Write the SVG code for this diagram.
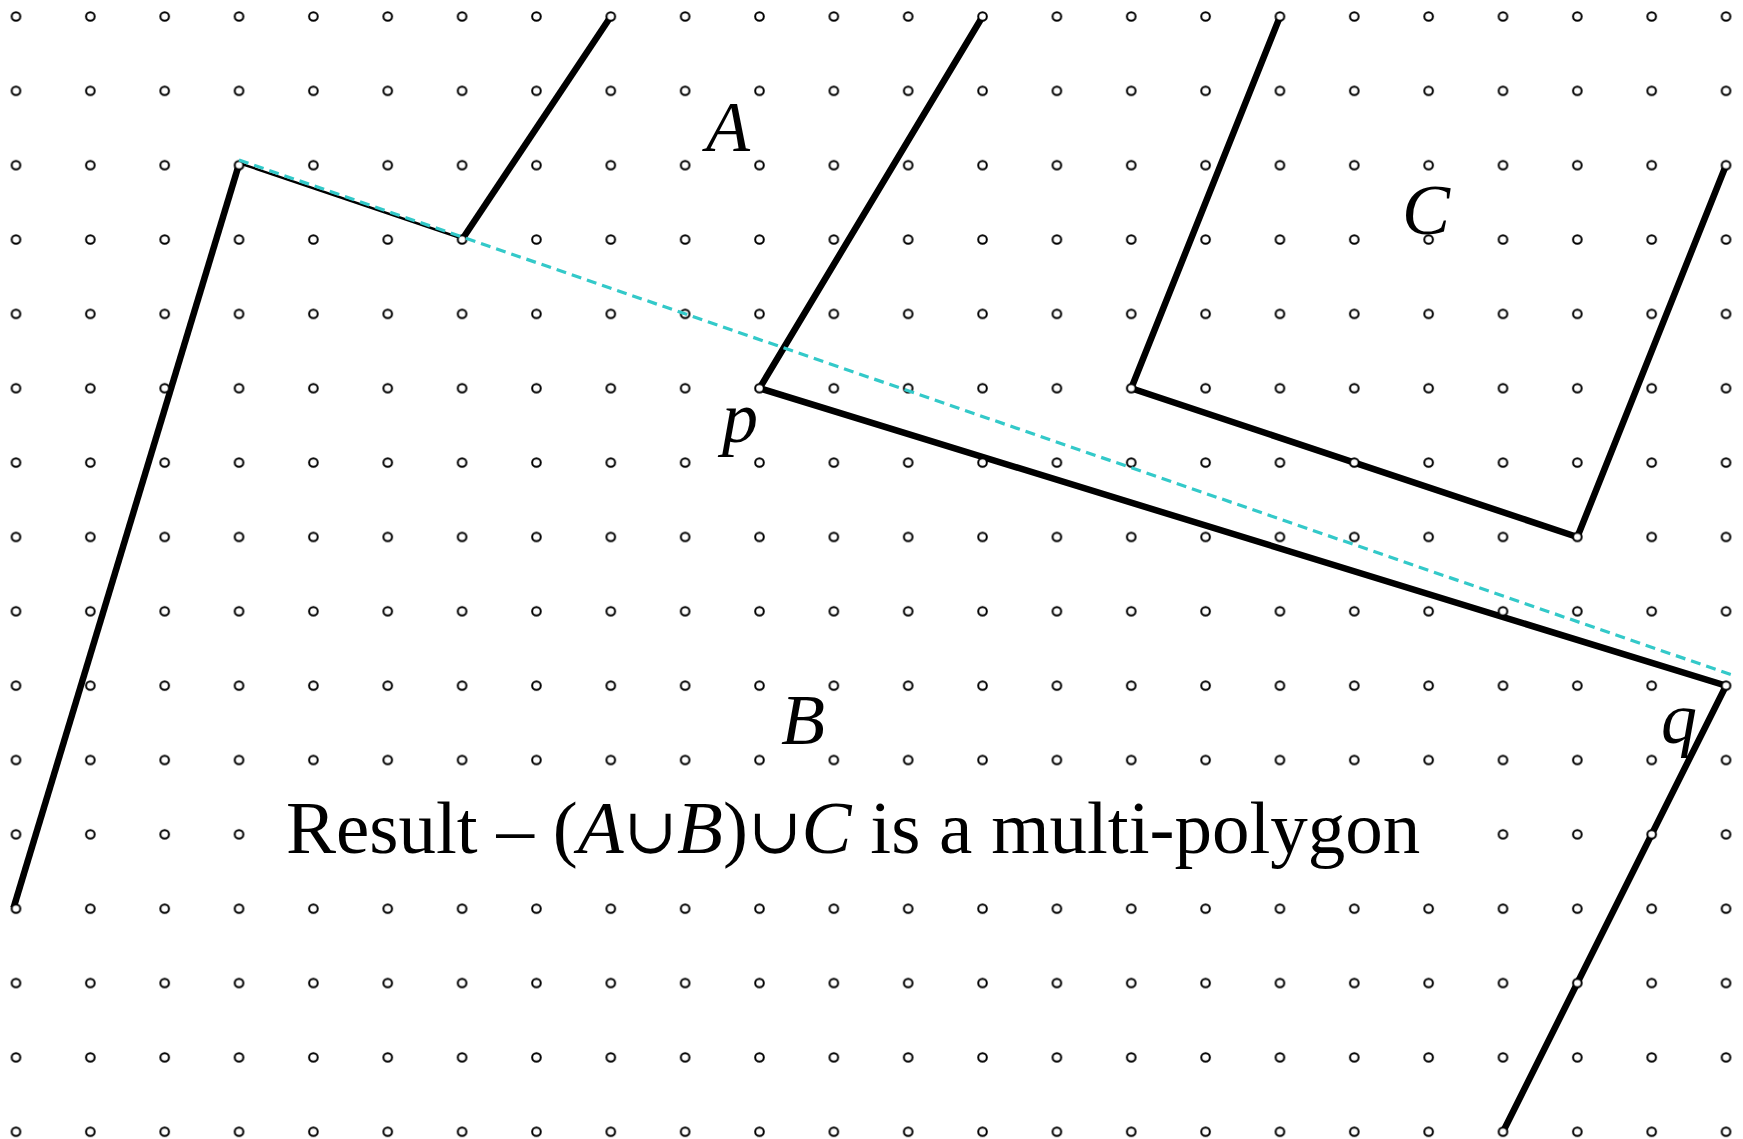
<svg xmlns="http://www.w3.org/2000/svg" width="1743" height="1139" viewBox="0 0 1743 1139">
  <style>
    .thick { fill: none; stroke: #000; stroke-width: 6.5; stroke-linejoin: miter; stroke-linecap: butt; }
    .thin { fill: none; stroke: #000; stroke-width: 2.4; }
    .dash { fill: none; stroke: #33c9c9; stroke-width: 3.2; stroke-dasharray: 10 6; }
    .lbl { font-family: "Liberation Serif", "DejaVu Serif", serif; font-style: italic; font-size: 72px; fill: #000; }
    .main { font-family: "Liberation Serif", "DejaVu Serif", serif; font-size: 75px; fill: #000; }
    .it { font-style: italic; }
    .cup { font-size: 64px; }
  </style>
  <defs>
    <pattern id="grid" patternUnits="userSpaceOnUse" x="-21.175" y="-20.675" width="74.35" height="74.35">
      <circle cx="37.175" cy="37.175" r="4.3" fill="#fff" stroke="#000" stroke-width="2"/>
    </pattern>
  </defs>
  <rect width="1743" height="1139" fill="#fff"/>
  <g id="connectors">
    <polyline class="thick" points="13.5,908 238.7,165.2"/>
    <polyline class="thin" points="238.7,163 462.1,238.5"/>
    <polyline class="thick" points="462.1,239.5 610.8,16.5"/>
    <polyline class="thick" points="982.55,16.5 759.5,388.25 1726,685.65 1503,1131.75"/>
    <polyline class="thick" points="1280,16.5 1131.25,388.25 1577.35,537 1726,165.2"/>
  </g>
  <g id="dots">
    <rect width="1743" height="1139" fill="url(#grid)"/>
  </g>
  <g id="dashed-line">
    <line class="dash" x1="239" y1="160" x2="1735" y2="676"/>
  </g>
  <g id="label-A"><text class="lbl" x="706" y="151">A</text></g>
  <g id="label-B"><text class="lbl" x="781" y="744">B</text></g>
  <g id="label-C"><text class="lbl" x="1402" y="234">C</text></g>
  <g id="label-p"><text class="lbl" x="722" y="442">p</text></g>
  <g id="label-q"><text class="lbl" x="1661" y="743">q</text></g>
  <g id="caption">
    <rect x="270" y="790" width="1180" height="85" fill="#fff"/>
    <text class="main" x="286" y="853">Result – (<tspan class="it">A</tspan><tspan class="cup">∪</tspan><tspan class="it">B</tspan>)<tspan class="cup">∪</tspan><tspan class="it">C</tspan> is a multi-polygon</text>
  </g>
</svg>
